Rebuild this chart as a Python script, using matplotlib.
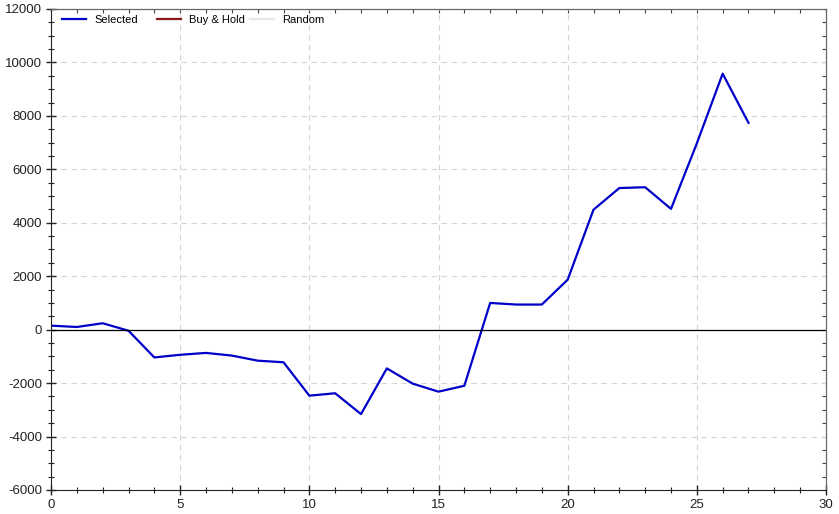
import matplotlib.pyplot as plt
from matplotlib.ticker import MultipleLocator, NullFormatter

plt.rcParams['font.family'] = ['Liberation Sans', 'DejaVu Sans']
plt.rcParams['axes.unicode_minus'] = False

# trade index and cumulative profit of the selected strategy
trades = list(range(28))
selected = [150, 100, 240, -40, -1040, -940, -870, -970, -1160, -1220,
            -2470, -2380, -3160, -1450, -2020, -2320, -2100, 1000, 940, 940,
            1870, 4490, 5300, 5330, 4520, 6970, 9580, 7740]
# these series are in the legend but not drawn
buy_hold = []
random_series = []

fig = plt.figure(figsize=(8.39, 5.14), dpi=100)
ax = fig.add_axes([0.0608, 0.0467, 0.9237, 0.9358])

l1, = ax.plot(trades, selected, color='#0000c8', lw=1.6, label='Selected')
l2, = ax.plot(buy_hold, buy_hold, color='#8b1a1a', lw=1.6, label='Buy & Hold')
l3, = ax.plot(random_series, random_series, color='#e6e6e6', lw=1.6, label='Random')
ax.axhline(0, color='black', lw=0.9)

ax.set_xlim(0, 30)
ax.set_ylim(-6000, 12000)
ax.xaxis.set_major_locator(MultipleLocator(5))
ax.xaxis.set_minor_locator(MultipleLocator(1))
ax.yaxis.set_major_locator(MultipleLocator(2000))
ax.yaxis.set_minor_locator(MultipleLocator(500))

ax.grid(which='major', color='#d4d4d4', linestyle=(0, (5, 4)), lw=0.8)
ax.set_axisbelow(True)

ax.tick_params(which='both', direction='inout', labelsize=9.5,
               colors='#222222', pad=3)
ax.tick_params(which='major', length=7, width=1)
ax.tick_params(which='minor', length=5, width=0.8)

# top and right: small inward ticks, no labels
top = ax.secondary_xaxis('top')
top.xaxis.set_major_locator(MultipleLocator(1))
top.xaxis.set_major_formatter(NullFormatter())
top.tick_params(direction='in', length=3, width=0.8, colors='#444444')
right = ax.secondary_yaxis('right')
right.yaxis.set_major_locator(MultipleLocator(500))
right.yaxis.set_major_formatter(NullFormatter())
right.tick_params(direction='in', length=3, width=0.8, colors='#444444')
for a in (top, right):
    for s in a.spines.values():
        s.set_color('#666666')
        s.set_linewidth(0.8)

ax.spines['left'].set_color('#222222')
ax.spines['bottom'].set_color('#222222')
ax.spines['top'].set_color('#666666')
ax.spines['right'].set_color('#666666')

# legend entries sit in fixed-width slots, one legend per entry
legs = []
for line, xpos in zip((l1, l2, l3), (0.0142, 0.1368, 0.2568)):
    leg = ax.legend(handles=[line], loc='upper left', frameon=False,
                    fontsize=8, handlelength=2.16, handletextpad=0.72,
                    borderpad=0, borderaxespad=0,
                    bbox_to_anchor=(xpos, 0.9875))
    legs.append(leg)
# the last one stays as ax.legend_, the others are added by hand
for leg in legs[:-1]:
    ax.add_artist(leg)

fig.savefig('out.png', dpi=100)
